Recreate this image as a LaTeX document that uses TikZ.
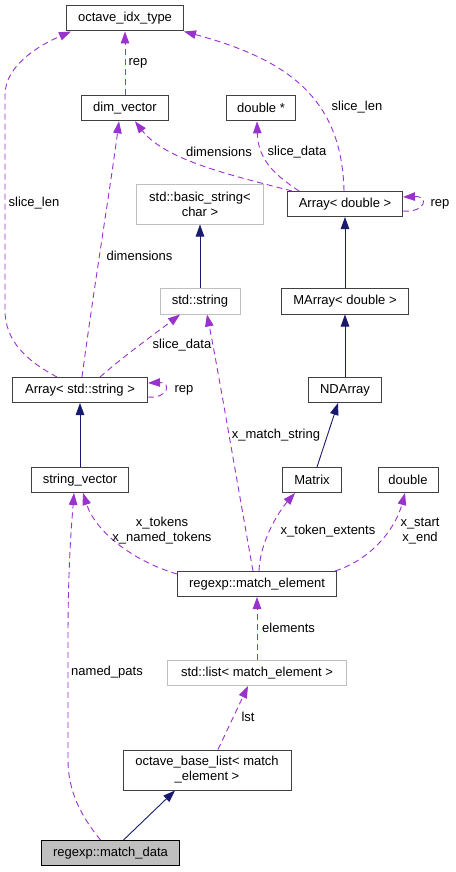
\documentclass[tikz,border=0pt]{standalone}
\usepackage{fontspec}
\setmainfont{Liberation Sans}
\usetikzlibrary{arrows.meta}
\definecolor{dep}{HTML}{9A32CD}
\definecolor{inh}{HTML}{191970}
\definecolor{gbox}{HTML}{BFBFBF}
\definecolor{bbox}{HTML}{404040}
\tikzset{
  cls/.style={draw=bbox, line width=1pt, fill=white, inner sep=0pt, align=center, font=\fontsize{13}{15}\selectfont},
  gcls/.style={cls, draw=gbox},
  depline/.style={draw=dep, line width=0.9pt, dash pattern=on 6pt off 4pt, -{Triangle[length=12pt,width=8.5pt,fill=dep]}},
  inhline/.style={draw=inh, line width=0.9pt, -{Triangle[length=12pt,width=8.5pt,fill=inh]}},
  lbl/.style={inner sep=0pt, align=center, font=\fontsize{13}{15}\selectfont}
}
\begin{document}
\begin{tikzpicture}[x=1pt,y=-1pt]
\useasboundingbox[fill=white] (0,0) rectangle (455,872);
% nodes
\node[cls, minimum width=117pt, minimum height=25pt] (oit) at (125,18.5) {octave\_idx\_type};
\node[cls, minimum width=87pt, minimum height=25pt] (dv) at (125,108.3) {dim\_vector};
\node[cls, minimum width=69pt, minimum height=25pt] (dstar) at (261,108.3) {double *};
\node[gcls, minimum width=127pt, minimum height=40pt] (bstr) at (200,204) {std::basic\_string<\\char >};
\node[cls, minimum width=115pt, minimum height=25pt] (ad) at (345,204) {Array< double >};
\node[gcls, minimum width=80pt, minimum height=26pt] (str) at (200,301) {std::string};
\node[cls, minimum width=127pt, minimum height=26pt] (ma) at (345,301) {MArray< double >};
\node[cls, minimum width=135pt, minimum height=25pt] (as) at (80,390) {Array< std::string >};
\node[cls, minimum width=73pt, minimum height=25pt] (nd) at (345,390) {NDArray};
\node[cls, minimum width=97pt, minimum height=25pt] (sv) at (80,480) {string\_vector};
\node[cls, minimum width=59pt, minimum height=25pt] (mx) at (312,480) {Matrix};
\node[cls, minimum width=60pt, minimum height=25pt] (dbl) at (408,480) {double};
\node[cls, minimum width=159pt, minimum height=25pt] (me) at (257,584) {regexp::match\_element};
\node[gcls, minimum width=179pt, minimum height=25pt] (sl) at (257,673) {std::list< match\_element >};
\node[cls, minimum width=168pt, minimum height=40pt] (obl) at (207,770) {octave\_base\_list< match\\\_element >};
\node[cls, fill=gbox, draw=black, minimum width=138pt, minimum height=25pt] (md) at (110.5,853) {regexp::match\_data};

% inheritance
\draw[inhline] (ma.north) -- (ad.south);
\draw[inhline] (nd.north) -- (ma.south);
\draw[inhline] ([xshift=5pt]mx.north) -- ([xshift=-7pt]nd.south);
\draw[inhline] (str.north) -- (bstr.south);
\draw[inhline] (sv.north) -- (as.south);
\draw[inhline] ([xshift=13pt]md.north) -- ([xshift=-32pt]obl.south);

% dependencies
\draw[depline] (dv.north) -- (oit.south);
\draw[depline] ([xshift=-1pt]ad.north) .. controls (342,100) and (290,60) .. (oit.south east);
\draw[depline] ([xshift=5pt]ad.north west) .. controls (230,175) and (165,160) .. ([xshift=10pt]dv.south);
\draw[depline] ([xshift=12pt]ad.north west) .. controls (275,175) and (258,160) .. ([xshift=-4pt]dstar.south);
\draw[depline] ([yshift=-7pt]ad.east) .. controls (425,213) and (430,196) .. ([yshift=7pt]ad.east);
\draw[depline] ([xshift=-23pt]as.north) .. controls (25,360) and (5,340) .. (5,310) -- (5,95) .. controls (5,65) and (40,45) .. ([xshift=5pt]oit.south west);
\draw[depline] ([xshift=2pt]as.north) .. controls (95,280) and (110,190) .. ([xshift=-6pt]dv.south);
\draw[depline] ([xshift=20pt]as.north) .. controls (125,355) and (160,330) .. ([xshift=-20pt]str.south);
\draw[depline] ([yshift=-7pt]as.east) .. controls (168,399) and (172,382) .. ([yshift=7pt]as.east);
\draw[depline] ([xshift=-4pt]me.north) .. controls (235,470) and (218,370) .. ([xshift=7pt]str.south);
\draw[depline] ([yshift=-3pt]me.north west) .. controls (130,560) and (95,530) .. ([xshift=3pt]sv.south);
\draw[depline] ([xshift=2pt]me.north) .. controls (260,540) and (280,510) .. ([xshift=-17pt]mx.south);
\draw[depline] ([xshift=-2pt]me.north east) .. controls (370,560) and (395,530) .. ([xshift=-3pt]dbl.south);
\draw[depline] (sl.north) -- (me.south);
\draw[depline] ([xshift=11pt]obl.north) -- ([xshift=-9pt]sl.south);
\draw[depline] ([xshift=-10pt]md.north) .. controls (80,815) and (68,790) .. (68,760) -- (68,640) .. controls (68,560) and (72,520) .. ([xshift=-6pt]sv.south);

% labels
\node[lbl] (l1) at (138,63) {rep};
\node[lbl] (l2) at (357,107) {slice\_len};
\node[lbl] (l3) at (219,152) {dimensions};
\node[lbl] (l4) at (297,152) {slice\_data};
\node[lbl] (l5) at (440,204) {rep};
\node[lbl] (l6) at (34,203) {slice\_len};
\node[lbl] (l7) at (139.5,256) {dimensions};
\node[lbl] (l8) at (182,345) {slice\_data};
\node[lbl] (l9) at (184,390) {rep};
\node[lbl] (l10) at (276,435) {x\_match\_string};
\node[lbl] (l11) at (162,531) {x\_tokens\\x\_named\_tokens};
\node[lbl] (l12) at (328,531) {x\_token\_extents};
\node[lbl] (l13) at (420,531) {x\_start\\x\_end};
\node[lbl, anchor=west] (l14) at (262,628) {elements};
\node[lbl] (l15) at (248,717) {lst};
\node[lbl] (l16) at (107,672) {named\_pats};
\end{tikzpicture}
\end{document}
